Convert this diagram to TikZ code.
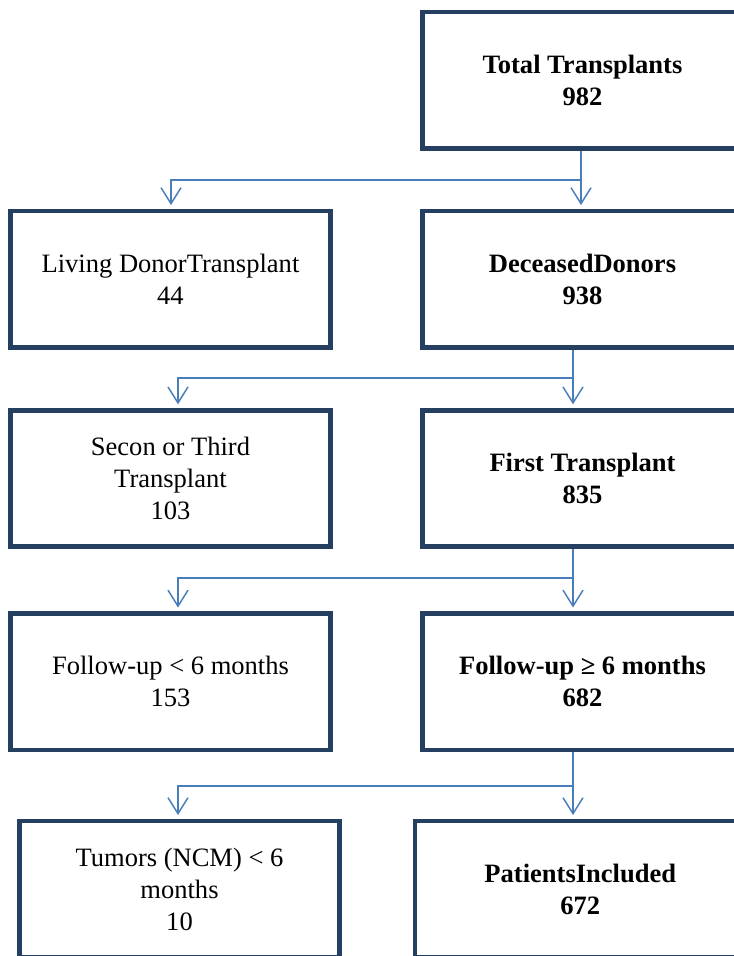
\documentclass[tikz,border=0pt]{standalone}
\usepackage{fontspec}
\setmainfont{Liberation Serif}
\usetikzlibrary{arrows.meta}
\definecolor{boxline}{HTML}{243F60}
\definecolor{flowline}{HTML}{4A7EBB}
\begin{document}
\begin{tikzpicture}[x=0.75pt,y=-0.75pt,
  stagebox/.style={draw=boxline,line width=3.7pt,minimum width=240pt,minimum height=102.4pt,
    inner sep=0pt,align=center,font=\fontsize{19.9}{24}\selectfont},
  keptbox/.style={stagebox,font=\fontsize{19.9}{24}\selectfont\bfseries},
  link/.style={flowline,line width=1.1pt,-{Straight Barb[length=12pt,width=15pt]},shorten >=2.6pt}]
  \useasboundingbox (0,0) rectangle (734,956);
  \clip (0,0) rectangle (734,956);
  % right column: patients kept
  \node[keptbox] (total) at (582.5,80.25) {Total Transplants\\982};
  \node[keptbox] (deceased) at (582.5,279.25) {DeceasedDonors\\938};
  \node[keptbox] (first) at (582.5,478.5) {First Transplant\\835};
  \node[keptbox] (longfu) at (582.5,681.75) {Follow-up ≥ 6 months\\682};
  \node[keptbox,minimum width=248pt] (included) at (580.3,889.25) {PatientsIncluded\\672};
  % left column: patients left out
  \node[stagebox] (living) at (170.5,279.25) {Living DonorTransplant\\44};
  \node[stagebox] (retx) at (170.5,478.5) {Secon or Third\\Transplant\\103};
  \node[stagebox] (shortfu) at (170.5,681.75) {Follow-up < 6 months\\153};
  \node[stagebox] (tumors) at (179.5,889.25) {Tumors (NCM) < 6\\months\\10};
  % junctions
  \coordinate (j1) at (581,180);
  \coordinate (k1) at (171,180);
  \coordinate (j2) at (573,378);
  \coordinate (k2) at (178,378);
  \coordinate (j3) at (573,578);
  \coordinate (k3) at (178,578);
  \coordinate (j4) at (573,786);
  \coordinate (k4) at (178,786);
  \draw[link] (total.south -| j1) -- (deceased.north -| j1);
  \draw[link] (j1) -- (k1) -- (living.north -| k1);
  \draw[link] (deceased.south -| j2) -- (first.north -| j2);
  \draw[link] (j2) -- (k2) -- (retx.north -| k2);
  \draw[link] (first.south -| j3) -- (longfu.north -| j3);
  \draw[link] (j3) -- (k3) -- (shortfu.north -| k3);
  \draw[link] (longfu.south -| j4) -- (included.north -| j4);
  \draw[link] (j4) -- (k4) -- (tumors.north -| k4);
\end{tikzpicture}
\end{document}
